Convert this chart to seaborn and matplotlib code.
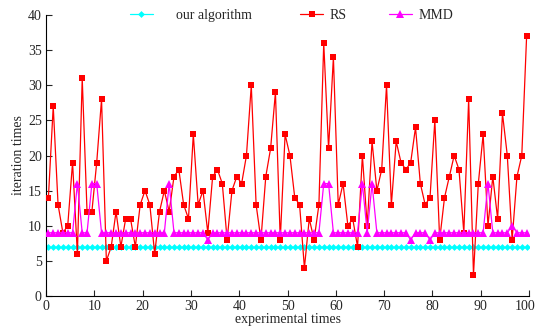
import matplotlib
matplotlib.use("Agg")
import matplotlib.pyplot as plt
import matplotlib.transforms as mtransforms
import seaborn as sns
import numpy as np
import pandas as pd

# experiment index (points sit half a unit before each integer)
runs = np.arange(1, 101) - 0.5

ours = [7] * 100

rs = [14, 27, 13, 9, 10, 19, 6, 31, 12, 12,
      19, 28, 5, 7, 12, 7, 11, 11, 7, 13,
      15, 13, 6, 12, 15, 12, 17, 18, 13, 11,
      23, 13, 15, 9, 17, 18, 16, 8, 15, 17,
      16, 20, 30, 13, 8, 17, 21, 29, 8, 23,
      20, 14, 13, 4, 11, 8, 13, 36, 21, 34,
      13, 16, 10, 11, 7, 20, 10, 22, 15, 18,
      30, 13, 22, 19, 18, 19, 24, 16, 13, 14,
      25, 8, 14, 17, 20, 18, 9, 28, 3, 16,
      23, 10, 17, 11, 26, 20, 8, 17, 20, 37]

mmd = [9, 9, 9, 9, 9, 9, 16, 9, 9, 16,
       16, 9, 9, 9, 9, 9, 9, 9, 9, 9,
       9, 9, 9, 9, 9, 16, 9, 9, 9, 9,
       9, 9, 9, 8, 9, 9, 9, 9, 9, 9,
       9, 9, 9, 9, 9, 9, 9, 9, 9, 9,
       9, 9, 9, 9, 9, 9, 9, 16, 16, 9,
       9, 9, 9, 9, 9, 16, 9, 16, 9, 9,
       9, 9, 9, 9, 9, 8, 9, 9, 9, 8,
       9, 9, 9, 9, 9, 9, 9, 9, 9, 9,
       9, 16, 9, 9, 9, 9, 10, 9, 9, 9]

df = pd.DataFrame({'run': runs, 'ours': ours, 'RS': rs, 'MMD': mmd})

sns.set_style("ticks")
plt.rcParams['font.family'] = ['Liberation Serif', 'DejaVu Serif']

fig = plt.figure(figsize=(5.36, 3.32), dpi=100)
ax = fig.add_axes([0.0858, 0.1084, 0.9012, 0.8464])

sns.lineplot(data=df, x='run', y='ours', ax=ax, color='#00FFFF', marker='D',
             markersize=3.5, markeredgewidth=0, linewidth=0.9,
             label='our algorithm', zorder=2)
sns.lineplot(data=df, x='run', y='RS', ax=ax, color='#FF0000', marker='s',
             markersize=5, markeredgewidth=0, linewidth=0.9,
             label='RS', zorder=3)
sns.lineplot(data=df, x='run', y='MMD', ax=ax, color='#FF00FF', marker='^',
             markersize=5.5, markeredgewidth=0, linewidth=0.9,
             label='MMD', zorder=4)

ax.set_xlim(0, 100)
ax.set_ylim(0, 40)
ax.set_xticks(range(0, 101, 10))
ax.set_yticks(range(0, 41, 5))
ax.tick_params(direction='in', length=4, width=0.8, labelsize=10, pad=3)
for s in ['top', 'right']:
    ax.spines[s].set_visible(False)
for s in ['left', 'bottom']:
    ax.spines[s].set_linewidth(0.8)
    ax.spines[s].set_color('black')

# keep the "100" label inside the canvas
last = ax.get_xticklabels()[-1]
last.set_transform(last.get_transform() +
                   mtransforms.ScaledTranslation(-3 / 72, 0, fig.dpi_scale_trans))

ax.set_xlabel('experimental times', fontsize=10, labelpad=0)
ax.set_ylabel('iteration times', fontsize=10, labelpad=2)

# legend: first entry has a wider gap between sample and text
handles, labels = ax.get_legend_handles_labels()
leg1 = ax.legend(handles[:1], labels[:1], loc='center left',
                 bbox_to_anchor=(0.174, 1.0), frameon=False, fontsize=10,
                 handlelength=1.65, handletextpad=1.65, borderpad=0,
                 borderaxespad=0)
ax.add_artist(leg1)
ax.legend(handles[1:], labels[1:], loc='center left',
          bbox_to_anchor=(0.526, 1.0), ncol=2, frameon=False, fontsize=10,
          handlelength=1.65, handletextpad=0.5, columnspacing=3.0,
          borderpad=0, borderaxespad=0)

fig.savefig('out.png', dpi=100)
